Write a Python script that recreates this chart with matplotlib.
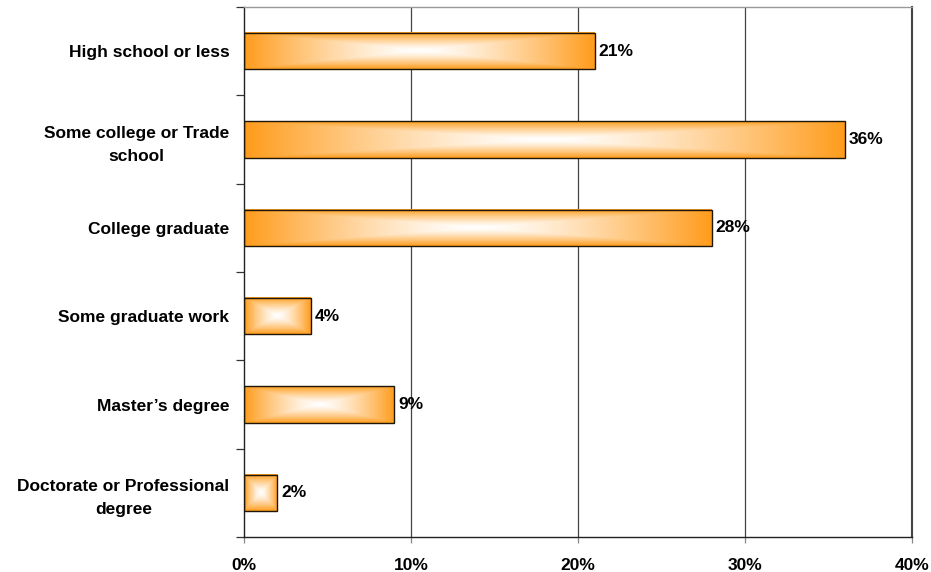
import numpy as np
import matplotlib
matplotlib.use("Agg")
import matplotlib.pyplot as plt
from matplotlib.patches import Rectangle

plt.rcParams['font.family'] = ['Liberation Sans', 'DejaVu Sans']

categories = [
    "High school or less",
    "Some college or Trade\nschool",
    "College graduate",
    "Some graduate work",
    "Master\u2019s degree",
    "Doctorate or Professional\ndegree",
]
values = [21, 36, 28, 4, 9, 2]
xticks = [0, 10, 20, 30, 40]
xtick_labels = ["0%", "10%", "20%", "30%", "40%"]

orange = np.array([255, 156, 28]) / 255.0
white = np.array([1.0, 1.0, 1.0])


def rect_gradient(nx=240, ny=80):
    # rectangular "from centre" gradient: white core, orange rim
    u = np.linspace(-1, 1, nx)
    v = np.linspace(-1, 1, ny)
    U, V = np.meshgrid(u, v)
    t = np.maximum(np.abs(U), np.abs(V))
    w = 1 - t ** 1.35
    img = orange[None, None, :] * (1 - w[..., None]) + white[None, None, :] * w[..., None]
    return img


fig = plt.figure(figsize=(9.31, 5.72), dpi=100)
ax = fig.add_axes([244 / 931, 1 - 537 / 572, (912 - 244) / 931, (537 - 7) / 572])

n = len(categories)
ypos = np.arange(n)
bar_h = 0.41
fs = 12.5

for y, val in zip(ypos, values):
    ax.imshow(rect_gradient(), extent=(0, val, y + bar_h / 2, y - bar_h / 2),
              aspect='auto', interpolation='bilinear', zorder=2)
    ax.add_patch(Rectangle((0, y - bar_h / 2), val, bar_h, fill=False,
                           edgecolor='#1e1608', linewidth=1.0, zorder=3))
    ax.text(val + 0.22, y, f"{val}%", va='center', ha='left',
            fontsize=fs, fontweight='bold', color='black', zorder=4)

ax.set_xlim(0, 40)
ax.set_ylim(n - 0.5, -0.5)

# gridlines
for gx in [10, 20, 30]:
    ax.axvline(gx, color='#444444', linewidth=0.9, zorder=1)

ax.set_xticks(xticks)
ax.set_xticklabels(xtick_labels, fontsize=fs, fontweight='bold')
ax.tick_params(axis='x', length=4, width=0.9, color='#888888', pad=11)

ax.set_yticks(ypos)
ax.set_yticklabels(categories, fontsize=fs, fontweight='bold')
ax.tick_params(axis='y', which='major', length=0, pad=10.5)
ax.set_yticks(np.arange(-0.5, n + 0.5, 1), minor=True)
ax.tick_params(axis='y', which='minor', length=5.5, width=0.9, color='#333333')

for lab in ax.get_yticklabels():
    lab.set_multialignment('center')
    lab.set_linespacing(1.65)

ax.spines['left'].set_color('#222222')
ax.spines['bottom'].set_color('#222222')
ax.spines['top'].set_color('#999999')
ax.spines['right'].set_color('#444444')
ax.spines['right'].set_linewidth(1.5)
for s in ['left', 'bottom', 'top']:
    ax.spines[s].set_linewidth(1.0)

fig.savefig("out.png", dpi=100, facecolor='white')
